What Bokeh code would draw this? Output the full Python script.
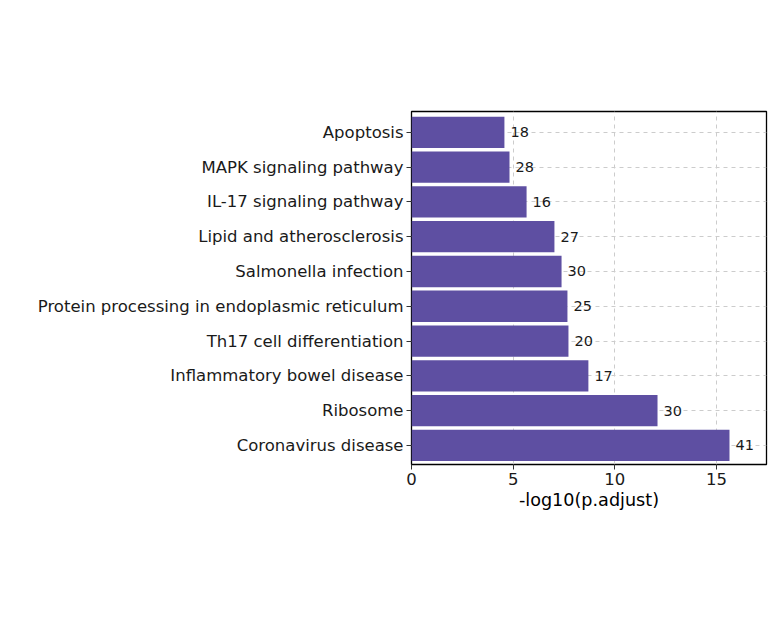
from bokeh.plotting import figure
from bokeh.models import Range1d, FixedTicker, ColumnDataSource
from bokeh.embed import file_html
from bokeh.resources import INLINE
from bokeh.core.properties import value

categories = ["Apoptosis", "MAPK signaling pathway", "IL-17 signaling pathway",
              "Lipid and atherosclerosis", "Salmonella infection",
              "Protein processing in endoplasmic reticulum", "Th17 cell differentiation",
              "Inflammatory bowel disease", "Ribosome", "Coronavirus disease"]
neglog_padj = [4.57, 4.82, 5.66, 7.03, 7.38, 7.67, 7.72, 8.70, 12.10, 15.64]
counts = [18, 28, 16, 27, 30, 25, 20, 17, 30, 41]

n = len(categories)
ypos = [n - i for i in range(n)]

src = ColumnDataSource(dict(y=ypos, v=neglog_padj, c=[str(c) for c in counts], cat=categories))

p = figure(width=772, height=604, output_backend="svg", toolbar_location=None,
           x_range=Range1d(0, 17.46), y_range=Range1d(0.45, n + 0.6),
           min_border_left=411, min_border_right=6, min_border_top=111, min_border_bottom=140)

p.hbar(y="y", right="v", left=0, height=0.9, source=src, fill_color="#5E4FA2", line_color=None)
p.text(x="v", y="y", text="c", source=src, x_offset=6, text_baseline="middle", text_align="left",
       text_font=value("DejaVu Sans"), text_font_size="14.5px", text_color="#1a1a1a")

p.outline_line_color = "black"
p.outline_line_width = 1.3

p.yaxis.ticker = FixedTicker(ticks=ypos)
p.yaxis.major_label_overrides = {y: c for y, c in zip(ypos, categories)}
p.xaxis.ticker = FixedTicker(ticks=[0, 5, 10, 15])

for ax in (p.xaxis, p.yaxis):
    ax.axis_line_color = None
    ax.major_tick_line_color = "#333333"
    ax.major_tick_in = 0
    ax.major_tick_out = 5
    ax.minor_tick_line_color = None
    ax.major_label_text_font = "DejaVu Sans"
    ax.major_label_text_font_size = "16.5px"
    ax.major_label_text_color = "#1a1a1a"
    ax.major_label_standoff = 3

p.xaxis.axis_label = "-log10(p.adjust)"
p.xaxis.axis_label_text_font = "DejaVu Sans"
p.xaxis.axis_label_text_font_size = "17.6px"
p.xaxis.axis_label_text_font_style = "normal"
p.xaxis.axis_label_text_color = "black"
p.xaxis.axis_label_standoff = 2

for g in (p.xgrid, p.ygrid):
    g.grid_line_color = "#cccccc"
    g.grid_line_dash = "4 4"
    g.grid_line_width = 1

p.background_fill_color = "white"
p.border_fill_color = "white"

open("out.html", "w").write(file_html(p, INLINE))
